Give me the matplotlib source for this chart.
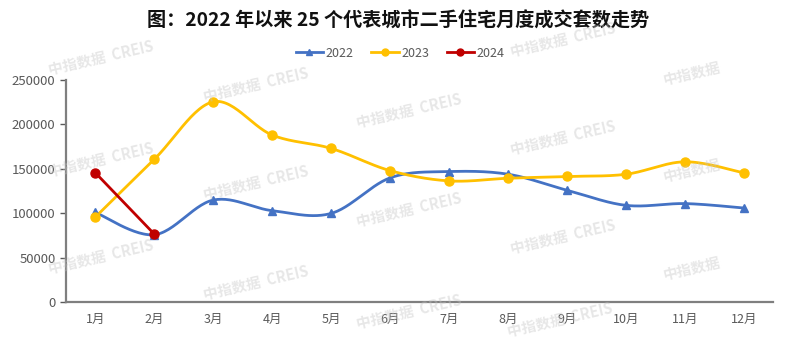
import numpy as np
import matplotlib
matplotlib.use("Agg")
import matplotlib.pyplot as plt

plt.rcParams['font.family'] = ['Noto Sans CJK SC', 'DejaVu Sans']

months = ["1月", "2月", "3月", "4月", "5月", "6月", "7月", "8月", "9月", "10月", "11月", "12月"]
y2022 = [101000, 76000, 115000, 103000, 100000, 140000, 147000, 144000, 126000, 109000, 111000, 106000]
y2023 = [96000, 161000, 225500, 188000, 173000, 148000, 136500, 139500, 141500, 144000, 158000, 145500]
y2024 = [145500, 76500]
yticks = [0, 50000, 100000, 150000, 200000, 250000]


def smooth(xs, ys, n=30):
    # Catmull-Rom style bezier, like Excel's smoothed line
    xs = np.asarray(xs, float)
    ys = np.asarray(ys, float)
    px = np.concatenate([[xs[0]], xs, [xs[-1]]])
    py = np.concatenate([[ys[0]], ys, [ys[-1]]])
    outx, outy = [], []
    t = np.linspace(0, 1, n)
    for i in range(1, len(px) - 2):
        p0 = np.array([px[i], py[i]])
        p3 = np.array([px[i + 1], py[i + 1]])
        c1 = p0 + (np.array([px[i + 1], py[i + 1]]) - np.array([px[i - 1], py[i - 1]])) / 6
        c2 = p3 - (np.array([px[i + 2], py[i + 2]]) - np.array([px[i], py[i]])) / 6
        b = ((1 - t) ** 3)[:, None] * p0 + (3 * (1 - t) ** 2 * t)[:, None] * c1 \
            + (3 * (1 - t) * t ** 2)[:, None] * c2 + (t ** 3)[:, None] * p3
        outx.extend(b[:, 0])
        outy.extend(b[:, 1])
    return outx, outy


fig = plt.figure(figsize=(7.97, 3.43), dpi=100)
ax = fig.add_axes([0.0828, 0.1187, 0.8877, 0.6481])

x = np.arange(len(months))
sx, sy = smooth(x, y2022)
ax.plot(sx, sy, color="#4472C4", lw=2, zorder=3)
ax.plot(x, y2022, ls="none", marker="^", ms=6, color="#4472C4", zorder=4)
sx, sy = smooth(x, y2023)
ax.plot(sx, sy, color="#FFC000", lw=2, zorder=3)
ax.plot(x, y2023, ls="none", marker="o", ms=6.5, color="#FFC000", zorder=4)
ax.plot(x[:2], y2024, color="#C00000", lw=2, marker="o", ms=6.5, zorder=5)

# legend proxies
h1, = ax.plot([], [], color="#4472C4", lw=2, marker="^", ms=5)
h2, = ax.plot([], [], color="#FFC000", lw=2, marker="o", ms=5)
h3, = ax.plot([], [], color="#C00000", lw=2, marker="o", ms=5)
fig.legend([h1, h2, h3], ["2022", "2023", "2024"], loc="center", bbox_to_anchor=(0.502, 0.845),
           ncol=3, frameon=False, fontsize=9, handlelength=2.2, columnspacing=1.4,
           handletextpad=0.2, labelcolor="#595959")

ax.set_xlim(-0.5, 11.5)
ax.set_ylim(0, 250000)
ax.set_xticks(x)
ax.set_xticklabels(months)
ax.set_yticks(yticks)
ax.set_yticklabels([str(v) for v in yticks])
ax.tick_params(axis="x", length=0, pad=8, labelsize=9, colors="#595959")
ax.tick_params(axis="y", length=4, width=1, direction="out", labelsize=9.5, colors="#595959")
for s in ["top", "right"]:
    ax.spines[s].set_visible(False)
for s in ["left", "bottom"]:
    ax.spines[s].set_color("#7f7f7f")
    ax.spines[s].set_linewidth(1.6)

fig.text(0.5, 0.94, "图：2022 年以来 25 个代表城市二手住宅月度成交套数走势", ha="center", va="center",
         fontsize=13.8, fontweight="bold", color="#111111")

# watermarks
marks = [(101, 58), (256, 85), (409, 111), (563, 40),
         (101, 160), (256, 183), (409, 210), (563, 138),
         (101, 257), (256, 283), (409, 312), (563, 237), (560, 320)]
for px_, py_ in marks:
    fig.text(px_ / 797, 1 - py_ / 343, "中指数据  CREIS", ha="center", va="center", rotation=13,
             fontsize=10.5, fontweight="bold", color="#c4c4c4", alpha=0.4, zorder=10)
for px_, py_ in [(692, 73), (692, 170), (692, 268)]:
    fig.text(px_ / 797, 1 - py_ / 343, "中指数据", ha="center", va="center", rotation=13,
             fontsize=10.5, fontweight="bold", color="#c4c4c4", alpha=0.4, zorder=10)

fig.savefig("out.png", dpi=100, facecolor="white")
